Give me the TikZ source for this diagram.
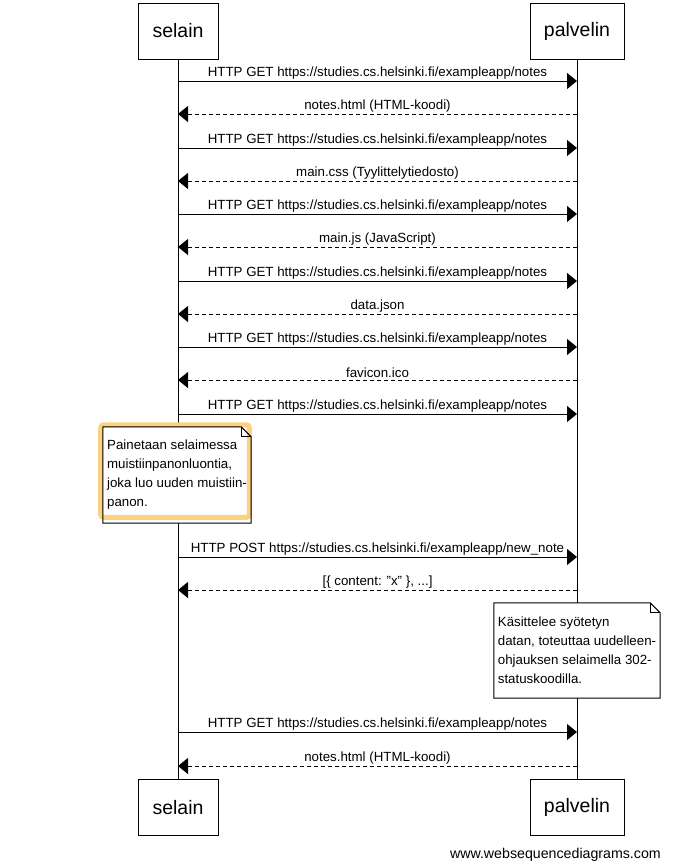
\documentclass[tikz,border=0pt]{standalone}
\usepackage{fontspec}
\setmainfont{Liberation Sans}
\usetikzlibrary{arrows.meta}
\definecolor{hilite}{HTML}{FCD280}
\tikzset{
	actor/.style={shape=rectangle, draw, line width=1pt, minimum height=56pt, font=\fontsize{19.5}{22}\selectfont},
	lifeline/.style={line width=1pt},
	request/.style={line width=1pt, -{Triangle[length=10pt, width=16pt]}},
	reply/.style={request, dash pattern=on 4pt off 3pt},
	msglabel/.style={anchor=south, inner sep=1.5pt, font=\fontsize{13.3}{15}\selectfont},
	notebox/.style={shape=rectangle, fill=white, align=left, inner xsep=0pt, font=\fontsize{13.3}{19}\selectfont},
	notefold/.style={line width=1pt},
	highlight/.style={draw=hilite, line width=5pt, rounded corners=3pt}
}
\begin{document}
\begin{tikzpicture}[x=1pt, y=-1pt]
	\useasboundingbox (0,0) rectangle (697,865);
	% Paths, nodes and wires:
	\node[actor, minimum width=80pt] (selainTop) at (178,31){selain};
	\node[actor, minimum width=94pt] (palvelinTop) at (577,31){palvelin};
	\node[actor, minimum width=80pt] (selainBot) at (178,807.5){selain};
	\node[actor, minimum width=94pt] (palvelinBot) at (577,807.5){palvelin};
	\draw[lifeline] (selainTop) -- (selainBot);
	\draw[lifeline] (palvelinTop) -- (palvelinBot);
	\foreach \i/\y in {1/81, 2/114, 3/148, 4/181, 5/214, 6/247, 7/281, 8/314, 9/347, 10/380, 11/414, 12/557, 13/590, 14/732, 15/766}{
		\coordinate (s\i) at (178,\y);
		\coordinate (p\i) at (577,\y);
	}
	\draw[request] (s1) -- node[msglabel]{HTTP GET https://studies.cs.helsinki.fi/exampleapp/notes} (p1);
	\draw[reply] (p2) -- node[msglabel]{notes.html (HTML-koodi)} (s2);
	\draw[request] (s3) -- node[msglabel]{HTTP GET https://studies.cs.helsinki.fi/exampleapp/notes} (p3);
	\draw[reply] (p4) -- node[msglabel]{main.css (Tyylittelytiedosto)} (s4);
	\draw[request] (s5) -- node[msglabel]{HTTP GET https://studies.cs.helsinki.fi/exampleapp/notes} (p5);
	\draw[reply] (p6) -- node[msglabel]{main.js (JavaScript)} (s6);
	\draw[request] (s7) -- node[msglabel]{HTTP GET https://studies.cs.helsinki.fi/exampleapp/notes} (p7);
	\draw[reply] (p8) -- node[msglabel]{data.json} (s8);
	\draw[request] (s9) -- node[msglabel]{HTTP GET https://studies.cs.helsinki.fi/exampleapp/notes} (p9);
	\draw[reply] (p10) -- node[msglabel]{favicon.ico} (s10);
	\draw[request] (s11) -- node[msglabel]{HTTP GET https://studies.cs.helsinki.fi/exampleapp/notes} (p11);
	\draw[request] (s12) -- node[msglabel]{HTTP POST https://studies.cs.helsinki.fi/exampleapp/new\_note} (p12);
	\draw[reply] (p13) -- node[msglabel]{[\{ content: \symbol{34}x\symbol{34} \}, ...]} (s13);
	\draw[request] (s14) -- node[msglabel]{HTTP GET https://studies.cs.helsinki.fi/exampleapp/notes} (p14);
	\draw[reply] (p15) -- node[msglabel]{notes.html (HTML-koodi)} (s15);
	% notes
	\node[notebox, minimum width=148pt, minimum height=96pt] (noteClick) at (177,475){Painetaan selaimessa\\muistiinpanonluontia,\\joka luo uuden muistiin-\\panon.};
	\node[notebox, minimum width=166pt, minimum height=95pt] (noteServer) at (577,650.5){Käsittelee syötetyn\\datan, toteuttaa uudelleen-\\ohjauksen selaimella 302-\\statuskoodilla.};
	\draw[highlight] ([xshift=-2.2pt, yshift=2pt]noteClick.north west) rectangle ([xshift=-1.8pt, yshift=5.8pt]noteClick.south east);
	\foreach \n in {noteClick, noteServer}{
		\draw[notefold] (\n.north west) -- ([xshift=-10pt]\n.north east) -- ([yshift=-10pt]\n.north east) -- (\n.south east) -- (\n.south west) -- cycle;
		\draw[notefold] ([xshift=-10pt]\n.north east) |- ([yshift=-10pt]\n.north east);
	}
	\node[anchor=east, inner sep=0pt, font=\fontsize{14.2}{16}\selectfont] (credit) at (661,855){www.websequencediagrams.com};
\end{tikzpicture}
\end{document}
